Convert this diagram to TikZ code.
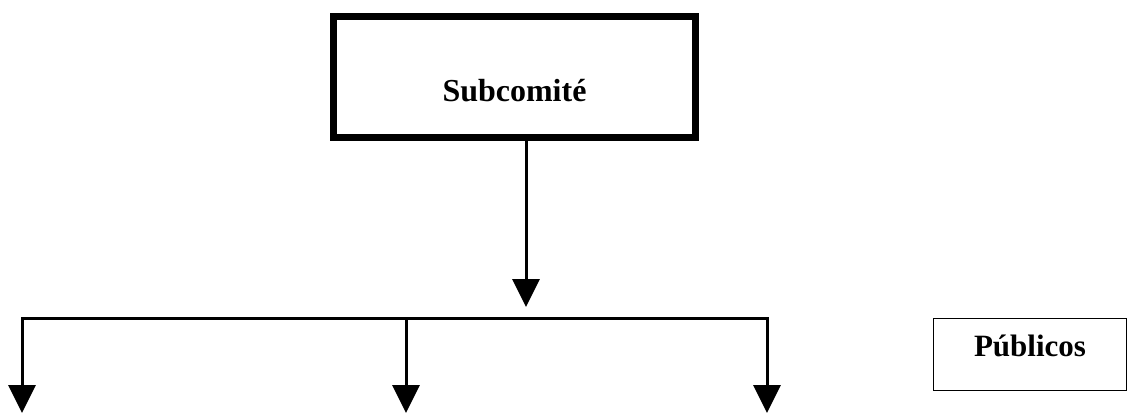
\documentclass[tikz,border=0pt]{standalone}
\usepackage{fontspec}
\setmainfont{Liberation Serif}
\usetikzlibrary{arrows.meta}
\begin{document}
\begin{tikzpicture}[x=1pt,y=-1pt,
  tip/.tip={Triangle[width=27pt,length=28pt]},
  arr/.style={line width=3pt,-tip},
  branch/.style={line width=3pt,line join=miter,tip-tip},
  mainbox/.style={draw,line width=7pt,inner sep=0pt,minimum width=362pt,
    text height=85.5pt,text depth=35.5pt,font=\fontsize{32}{38}\selectfont\bfseries},
  pubbox/.style={draw,line width=1pt,inner sep=0pt,minimum width=193pt,
    text height=38.5pt,text depth=33.5pt,font=\fontsize{31}{37}\selectfont\bfseries}]
\useasboundingbox (0,0) rectangle (1130,413);
\node[mainbox,anchor=north] (sub) at (514.5,12.5) {Subcomité};
\node[pubbox,anchor=north] (pub) at (1030,317.5) {Públicos};
\coordinate (top) at (526,139);
\coordinate (jt) at (526,307);
\coordinate (hl) at (22,318);
\coordinate (hm) at (406,318);
\coordinate (hr) at (767,318);
\coordinate (tl) at (22,413);
\coordinate (tm) at (406,413);
\coordinate (tr) at (767,413);
\draw[arr] (top) -- (jt);
\draw[branch] (tl) -- (hl) -- (hr) -- (tr);
\draw[arr] (hm) -- (tm);
\end{tikzpicture}
\end{document}
